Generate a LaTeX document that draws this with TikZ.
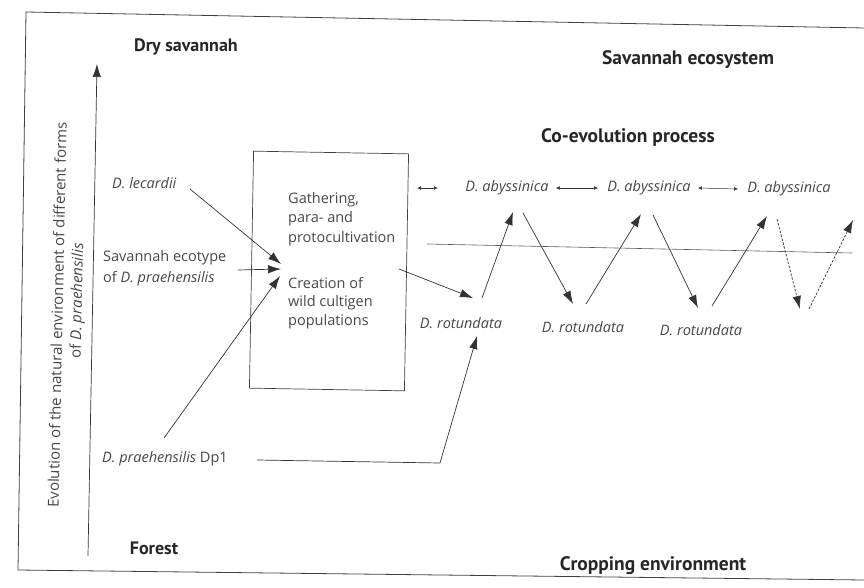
\documentclass[tikz,border=0pt]{standalone}
\usepackage{fontspec}
\setmainfont{Open Sans}
\newfontfamily\headfont{PT Sans}
\usetikzlibrary{arrows.meta}
\begin{document}
\begin{tikzpicture}[x=1pt,y=-1pt,
  txt/.style={font=\fontsize{14.5}{19.5}\selectfont, inner sep=0pt, text=black!72},
  lab/.style={font=\fontsize{14.5}{19.5}\selectfont\itshape, inner sep=0pt, text=black!72},
  head/.style={font=\headfont\bfseries\fontsize{19.5}{22}\selectfont, inner sep=0pt, text=black!85},
  arr/.style={-{Latex[length=13pt,width=8.5pt]}, line width=0.7pt, draw=black!80},
  darr/.style={arr, dash pattern=on 2.5pt off 1.5pt},
  small/.style={{Latex[length=4pt,width=3.5pt]}-{Latex[length=4pt,width=3.5pt]}, line width=0.5pt, draw=black!80},
  thin/.style={line width=0.6pt, draw=black!65}]
\useasboundingbox (0,0) rectangle (864,588);
% frame
\draw[line width=0.8pt, draw=black!75] (864,28) -- (26,12) -- (18,570) -- (864,580);
% vertical axis
\coordinate (ax0) at (88,556);
\coordinate (ax1) at (97,64);
\draw[arr] (ax0) -- (ax1);
\node[txt, font=\fontsize{15}{19}\selectfont, rotate=88.8] (axl1) at (57,315)
  {Evolution of the natural environment of different forms};
\node[txt, font=\fontsize{15}{19}\selectfont, rotate=88.8] (axl2) at (78,301)
  {of \textit{D. praehensilis}};
% headings
\node[head, font=\headfont\bfseries\fontsize{18}{22}\selectfont] (dry) at (186,47) {Dry savannah};
\node[head] (eco) at (688,60) {Savannah ecosystem};
\node[head] (coe) at (628,137) {Co-evolution process};
\node[head, font=\headfont\bfseries\fontsize{18}{22}\selectfont] (for) at (154,548) {Forest};
\node[head] (crop) at (653,566) {Cropping environment};
% left labels
\node[lab, anchor=west] (lec) at (112,183) {D. lecardii};
\node[txt, anchor=west] (sav1) at (103,258) {Savannah ecotype};
\node[txt, anchor=west] (sav2) at (103,279) {of \textit{D. praehensilis}};
\node[txt, anchor=west] (dp1) at (102,459) {\textit{D. praehensilis} Dp1};
% box
\node[draw=black!75, line width=0.7pt, minimum width=155pt, minimum height=237pt, inner sep=0pt, rotate=-1] (box) at (329,271) {};
\node[txt, anchor=west] (g1) at (288,200) {Gathering,};
\node[txt, anchor=west] (g2) at (288,219) {para- and};
\node[txt, anchor=west] (g3) at (288,239) {protocultivation};
\node[txt, anchor=west] (c1) at (288,283) {Creation of};
\node[txt, anchor=west] (c2) at (288,303) {wild cultigen};
\node[txt, anchor=west] (c3) at (288,322) {populations};
% inputs into box
\coordinate (lecs) at (190,189);
\coordinate (t1) at (281,264);
\coordinate (savs) at (238,270);
\coordinate (t2) at (281,269);
\coordinate (dps) at (164,438);
\coordinate (t3) at (280,276);
\draw[arr] (lecs) -- (t1);
\draw[arr] (savs) -- (t2);
\draw[arr] (dps) -- (t3);
% species
\node[lab] (a1) at (507,188) {D. abyssinica};
\node[lab] (a2) at (649,188) {D. abyssinica};
\node[lab] (a3) at (789,189) {D. abyssinica};
\node[lab] (r1) at (461,323) {D. rotundata};
\node[lab] (r2) at (583,327) {D. rotundata};
\node[lab] (r3) at (701,330) {D. rotundata};
% small double arrows
\coordinate (s0) at (417,188);
\coordinate (s1) at (438,188);
\draw[small] (s0) -- (s1);
\draw[small] ([xshift=7pt]a1.east) -- ([xshift=-9pt]a2.west);
\draw[small] ([xshift=7pt]a2.east) -- ([xshift=-9pt]a3.west);
% horizontal line
\coordinate (h0) at (427,244);
\coordinate (h1) at (852,253);
\draw[thin] (h0) -- (h1);
% box to rotundata
\coordinate (bo) at (399,269);
\coordinate (r1in) at (473,298);
\draw[arr] (bo) -- (r1in);
% Dp1 path
\coordinate (dpl) at (257,460);
\coordinate (dpc) at (440,463);
\coordinate (r1b) at (477,336);
\draw[arr] (dpl) -- (dpc) -- (r1b);
% zigzag
\coordinate (z1) at (482,298);
\coordinate (z2) at (513,212);
\coordinate (z3) at (523,213);
\coordinate (z4) at (573,304);
\coordinate (z5) at (586,304);
\coordinate (z6) at (641,214);
\coordinate (z7) at (653,215);
\coordinate (z8) at (698,308);
\coordinate (z9) at (712,306);
\coordinate (z10) at (767,216);
\coordinate (z11) at (777,219);
\coordinate (z12) at (800,309);
\coordinate (z13) at (809,309);
\coordinate (z14) at (853,220);
\draw[arr] (z1) -- (z2);
\draw[arr] (z3) -- (z4);
\draw[arr] (z5) -- (z6);
\draw[arr] (z7) -- (z8);
\draw[arr] (z9) -- (z10);
\draw[darr] (z11) -- (z12);
\draw[darr] (z13) -- (z14);
\end{tikzpicture}
\end{document}
